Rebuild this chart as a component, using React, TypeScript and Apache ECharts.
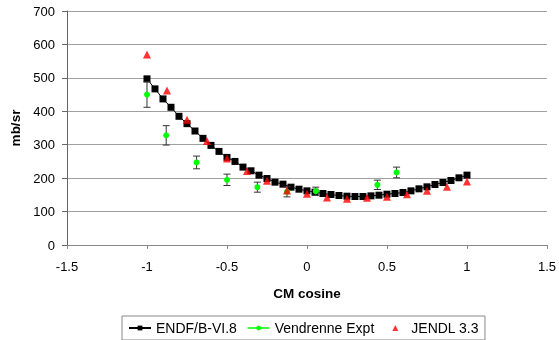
import React, { useEffect, useRef } from "react";
import * as echarts from "echarts";

const endfCosine = [-1.0, -0.95, -0.9, -0.85, -0.8, -0.75, -0.7, -0.65, -0.6, -0.55, -0.5, -0.45, -0.4, -0.35, -0.3, -0.25, -0.2, -0.15, -0.1, -0.05, 0, 0.05, 0.1, 0.15, 0.2, 0.25, 0.3, 0.35, 0.4, 0.45, 0.5, 0.55, 0.6, 0.65, 0.7, 0.75, 0.8, 0.85, 0.9, 0.95, 1.0];
const endfValues = [497, 467, 437, 412, 385, 363, 341, 319, 298, 280, 262, 250, 233, 222, 209, 199, 188, 182, 173, 167, 162, 158, 154, 151, 148, 146, 145, 145, 147, 149, 152, 154, 157, 162, 168, 174, 181, 187, 193, 201, 209];

const exptCosine = [-1.0, -0.88, -0.69, -0.5, -0.31, -0.125, 0.055, 0.44, 0.56];
const exptValues = [450, 328, 247, 195, 173, 159, 161, 180, 217];
const exptErrors = [38, 29, 19, 17, 15, 15, 12, 14, 16];

const jendlCosine = [-1.0, -0.875, -0.75, -0.625, -0.5, -0.375, -0.25, -0.125, 0, 0.125, 0.25, 0.375, 0.5, 0.625, 0.75, 0.875, 1.0];
const jendlValues = [570, 462, 375, 311, 259, 221, 192, 163, 153, 142, 138, 141, 144, 152, 162, 174, 190];

const FONT = "'Liberation Sans', Arial, sans-serif";

export default function App() {
  const ref = useRef<HTMLDivElement>(null);
  useEffect(() => {
    if (!ref.current) return;
    const chart = echarts.init(ref.current, null, { renderer: "svg" });
    const endfData = endfCosine.map((x, i) => [x, endfValues[i]]);
    const exptData = exptCosine.map((x, i) => [x, exptValues[i]]);
    const errData = exptCosine.map((x, i) => [x, exptValues[i], exptErrors[i]]);
    const jendlData = jendlCosine.map((x, i) => [x, jendlValues[i]]);
    chart.setOption({
      animation: false,
      textStyle: { fontFamily: FONT },
      grid: { left: 65, right: 12, top: 11, bottom: 95 },
      xAxis: {
        type: "value",
        min: -1.5,
        max: 1.5,
        interval: 0.5,
        name: "CM cosine",
        nameLocation: "middle",
        nameGap: 41,
        nameTextStyle: { fontFamily: FONT, fontSize: 13.5, fontWeight: "bold", color: "#000" },
        axisLine: { show: true, onZero: false, lineStyle: { color: "#888", width: 1 } },
        axisTick: { show: true, length: 4, lineStyle: { color: "#888" } },
        axisLabel: { fontFamily: FONT, fontSize: 13, color: "#000", margin: 15 },
        splitLine: { show: false },
      },
      yAxis: {
        type: "value",
        min: 0,
        max: 700,
        interval: 100,
        name: "mb/sr",
        nameLocation: "middle",
        nameGap: 45,
        nameTextStyle: { fontFamily: FONT, fontSize: 13.5, fontWeight: "bold", color: "#000" },
        axisLine: { show: true, onZero: false, lineStyle: { color: "#666", width: 1 } },
        axisTick: { show: true, length: 5, lineStyle: { color: "#666" } },
        axisLabel: { fontFamily: FONT, fontSize: 13, color: "#000", margin: 12 },
        splitLine: { show: true, lineStyle: { color: "#a0a0a0", width: 1 } },
      },
      legend: {
        left: 122,
        top: 316,
        orient: "horizontal",
        borderColor: "#888",
        borderWidth: 1,
        borderRadius: 0,
        padding: [5, 6, 5, 6],
        itemGap: 10,
        itemWidth: 22,
        itemHeight: 6,
        symbolKeepAspect: true,
        textStyle: { fontFamily: FONT, fontSize: 14, color: "#000" },
        data: [
          { name: "ENDF/B-VI.8" },
          { name: "Vendrenne Expt", lineStyle: { opacity: 1, width: 1.5, color: "#00ff00" } },
          { name: "JENDL 3.3", icon: "path://M0,0 M22,6 M11,0 L14,6 L8,6 Z" },
        ],
      },
      series: [
        {
          name: "ENDF/B-VI.8",
          type: "line",
          data: endfData,
          symbol: "rect",
          symbolSize: 7,
          itemStyle: { color: "#000" },
          lineStyle: { color: "#000", width: 1 },
          z: 2,
        },
        {
          name: "errors",
          type: "custom",
          data: errData,
          z: 3,
          renderItem: (params: any, api: any) => {
            const x = api.value(0);
            const y = api.value(1);
            const e = api.value(2);
            const top = api.coord([x, y + e]);
            const bot = api.coord([x, y - e]);
            const cap = 3.5;
            const style = { stroke: "#333", lineWidth: 1 };
            return {
              type: "group",
              children: [
                { type: "line", shape: { x1: top[0], y1: top[1], x2: bot[0], y2: bot[1] }, style },
                { type: "line", shape: { x1: top[0] - cap, y1: top[1], x2: top[0] + cap, y2: top[1] }, style },
                { type: "line", shape: { x1: bot[0] - cap, y1: bot[1], x2: bot[0] + cap, y2: bot[1] }, style },
              ],
            };
          },
        },
        {
          name: "Vendrenne Expt",
          type: "line",
          data: exptData,
          symbol: "circle",
          symbolSize: 6,
          itemStyle: { color: "#00ff00" },
          lineStyle: { color: "#00ff00", width: 1.5, opacity: 0 },
          z: 4,
        },
        {
          name: "JENDL 3.3",
          type: "scatter",
          data: jendlData,
          symbol: "triangle",
          symbolSize: 8,
          itemStyle: { color: "#ff0000" },
          z: 5,
        },
      ],
    });
    return () => chart.dispose();
  }, []);
  return <div ref={ref} style={{ position: "fixed", left: 0, top: 0, width: 559, height: 340 }} />;
}
